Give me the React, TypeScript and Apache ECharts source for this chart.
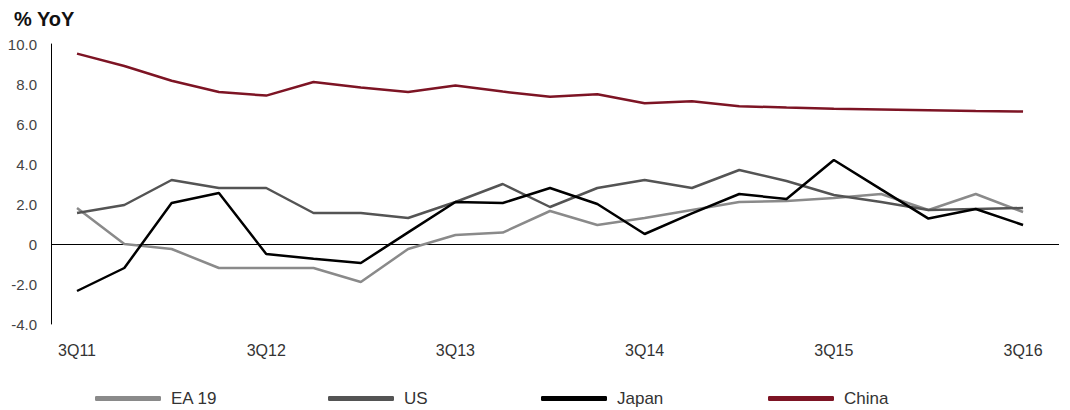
import React, { useEffect, useRef } from "react";
import * as echarts from "echarts";

const quarters = [
  "3Q11", "4Q11", "1Q12", "2Q12", "3Q12", "4Q12", "1Q13", "2Q13", "3Q13", "4Q13",
  "1Q14", "2Q14", "3Q14", "4Q14", "1Q15", "2Q15", "3Q15", "4Q15", "1Q16", "2Q16", "3Q16",
];
const labelQuarters = ["3Q11", "3Q12", "3Q13", "3Q14", "3Q15", "3Q16"];

const ea19 = [1.8, 0.0, -0.25, -1.2, -1.2, -1.2, -1.9, -0.25, 0.45, 0.57, 1.65, 0.95, 1.3, 1.7, 2.1, 2.15, 2.3, 2.5, 1.7, 2.5, 1.6];
const us = [1.55, 1.95, 3.2, 2.8, 2.8, 1.55, 1.55, 1.3, 2.1, 3.0, 1.85, 2.8, 3.2, 2.8, 3.7, 3.15, 2.45, 2.1, 1.7, 1.75, 1.8];
const japan = [-2.35, -1.2, 2.05, 2.55, -0.5, -0.74, -0.95, 0.58, 2.1, 2.05, 2.8, 2.0, 0.5, 1.53, 2.5, 2.25, 4.2, 2.73, 1.27, 1.75, 0.95];
const china = [9.52, 8.9, 8.16, 7.6, 7.42, 8.1, 7.82, 7.6, 7.92, 7.62, 7.36, 7.49, 7.04, 7.14, 6.89, 6.82, 6.76, 6.73, 6.69, 6.65, 6.62];

const seriesNames = ["EA 19", "US", "Japan", "China"];
const seriesValues = [ea19, us, japan, china];
const colors = ["#8a8a8a", "#545454", "#000000", "#7d1424"];

const FONT = "'Liberation Sans', Arial, sans-serif";

export default function App() {
  const ref = useRef<HTMLDivElement>(null);
  useEffect(() => {
    document.body.style.margin = "0";
    const chart = echarts.init(ref.current!, null, { renderer: "svg" });
    const legendLefts = [95, 328, 541, 768];
    chart.setOption({
      animation: false,
      backgroundColor: "#ffffff",
      title: {
        text: "% YoY",
        left: 14,
        top: 9,
        padding: 0,
        textStyle: { fontFamily: FONT, fontSize: 20, fontWeight: "bold", color: "#111" },
      },
      legend: seriesNames.map((n, i) => ({
        data: [n],
        left: legendLefts[i],
        top: 390,
        padding: 0,
        icon: "roundRect",
        itemWidth: 66,
        itemHeight: 5,
        itemGap: 10,
        textStyle: { fontFamily: FONT, fontSize: 17, color: "#333", padding: [0, 0, 0, 5] },
      })),
      grid: { left: 51, right: 11, top: 44, bottom: 86, containLabel: false },
      xAxis: {
        type: "value",
        min: -0.55,
        max: 20.76,
        axisLine: { show: false },
        axisTick: { show: false },
        splitLine: { show: false },
        axisLabel: {
          customValues: labelQuarters.map((q) => quarters.indexOf(q)),
          formatter: (v: number) => quarters[Math.round(v)] ?? "",
          fontFamily: FONT,
          fontSize: 16,
          color: "#333",
          margin: 18,
        },
      },
      yAxis: {
        type: "value",
        min: -4,
        max: 10,
        interval: 2,
        axisLine: { show: true, onZero: false, lineStyle: { color: "#000", width: 1 } },
        axisTick: { show: false },
        splitLine: { show: false },
        axisLabel: {
          formatter: (v: number) => (v === 0 ? "0" : v.toFixed(1)),
          fontFamily: FONT,
          fontSize: 15,
          color: "#444",
          margin: 14,
        },
      },
      series: seriesNames.map((n, i) => ({
        name: n,
        type: "line",
        data: seriesValues[i].map((v, k) => [k, v]),
        showSymbol: false,
        symbol: "none",
        lineStyle: { color: colors[i], width: 2.5 },
        itemStyle: { color: colors[i] },
        z: 3,
        ...(i === 0
          ? {
              markLine: {
                silent: true,
                symbol: "none",
                label: { show: false },
                lineStyle: { color: "#000", width: 1, type: "solid" },
                data: [{ yAxis: 0 }],
                z: 2,
              },
            }
          : {}),
      })),
    });
    return () => chart.dispose();
  }, []);
  return <div ref={ref} style={{ width: 1070, height: 410 }} />;
}
